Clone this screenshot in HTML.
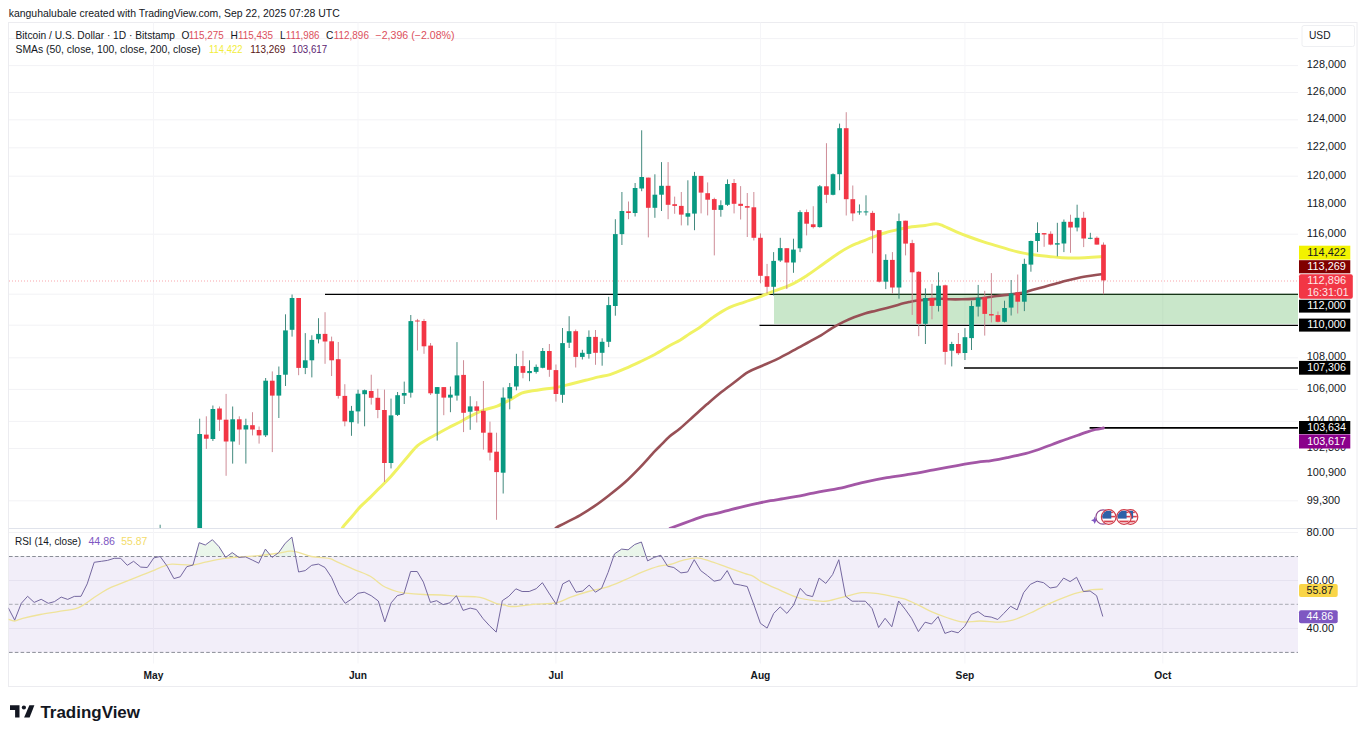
<!DOCTYPE html>
<html><head><meta charset="utf-8"><title>Bitcoin / U.S. Dollar chart</title>
<style>
html,body{margin:0;padding:0;background:#fff;}
body{width:1365px;height:736px;overflow:hidden;position:relative;font-family:'Liberation Sans', Arial, sans-serif;}
svg{position:absolute;left:0;top:0;display:block;}
svg text{font-family:'Liberation Sans', Arial, sans-serif;}
</style></head><body>
<svg width="1365" height="736" viewBox="0 0 1365 736">
<defs>
<clipPath id="cMain"><rect x="8.5" y="22.5" width="1289.5" height="506.0"/></clipPath>
<clipPath id="cRsi"><rect x="8.5" y="529" width="1289.5" height="134.5"/></clipPath>
<clipPath id="cOB"><rect x="8.5" y="529" width="1289.5" height="27.5"/></clipPath>
<linearGradient id="gOB" x1="0" y1="0" x2="0" y2="1"><stop offset="0" stop-color="#4caf50" stop-opacity="0.10"/><stop offset="1" stop-color="#4caf50" stop-opacity="0.22"/></linearGradient>
</defs>

<text x="8.7" y="16.8" font-size="10.5" fill="#131722" textLength="331" lengthAdjust="spacingAndGlyphs">kanguhalubale created with TradingView.com, Sep 22, 2025 07:28 UTC</text>
<rect x="8.5" y="22.5" width="1348.5" height="664" fill="none" stroke="#ececf0" stroke-width="1"/>
<g stroke="#f2f2f5" stroke-width="1"><line x1="9" y1="38.6" x2="1298" y2="38.6"/><line x1="9" y1="65.6" x2="1298" y2="65.6"/><line x1="9" y1="92.5" x2="1298" y2="92.5"/><line x1="9" y1="119.8" x2="1298" y2="119.8"/><line x1="9" y1="147.8" x2="1298" y2="147.8"/><line x1="9" y1="176.2" x2="1298" y2="176.2"/><line x1="9" y1="234.2" x2="1298" y2="234.2"/><line x1="9" y1="294.2" x2="1298" y2="294.2"/><line x1="9" y1="325.2" x2="1298" y2="325.2"/><line x1="9" y1="357.8" x2="1298" y2="357.8"/><line x1="9" y1="389.4" x2="1298" y2="389.4"/><line x1="9" y1="421.4" x2="1298" y2="421.4"/><line x1="9" y1="448.5" x2="1298" y2="448.5"/><line x1="9" y1="500.8" x2="1298" y2="500.8"/><line x1="9" y1="532.5" x2="1298" y2="532.5"/><line x1="9" y1="580.5" x2="1298" y2="580.5"/><line x1="9" y1="628.5" x2="1298" y2="628.5"/></g>
<g stroke="#f5f5f8" stroke-width="1"><line x1="153.52" y1="22.5" x2="153.52" y2="528.5"/><line x1="153.52" y1="529" x2="153.52" y2="663.5"/><line x1="358.03" y1="22.5" x2="358.03" y2="528.5"/><line x1="358.03" y1="529" x2="358.03" y2="663.5"/><line x1="555.94" y1="22.5" x2="555.94" y2="528.5"/><line x1="555.94" y1="529" x2="555.94" y2="663.5"/><line x1="760.44" y1="22.5" x2="760.44" y2="528.5"/><line x1="760.44" y1="529" x2="760.44" y2="663.5"/><line x1="964.95" y1="22.5" x2="964.95" y2="528.5"/><line x1="964.95" y1="529" x2="964.95" y2="663.5"/><line x1="1162.86" y1="22.5" x2="1162.86" y2="528.5"/><line x1="1162.86" y1="529" x2="1162.86" y2="663.5"/></g>
<g clip-path="url(#cMain)">
<g stroke="#000">
<line x1="325" y1="294.4" x2="1298" y2="294.4" stroke-width="1.4"/>
<line x1="759.5" y1="325.3" x2="1298" y2="325.3" stroke-width="1.3"/>
<line x1="964" y1="368" x2="1298" y2="368" stroke-width="1.7"/>
<line x1="1089.6" y1="427.8" x2="1298" y2="427.8" stroke-width="1.7"/>
</g>
<rect x="774" y="293.6" width="524" height="30.299999999999955" fill="#4caf50" fill-opacity="0.3"/>
<line x1="9" y1="281" x2="1298" y2="281" stroke="#F23645" stroke-opacity="0.45" stroke-width="1" stroke-dasharray="1 2"/>
<path d="M670,528.4 C670.38,528.25 668.73,528.82 672.3,527.5 C675.87,526.18 686.02,522.43 691.4,520.5 C696.78,518.57 700.22,517.12 704.6,515.9 C708.98,514.68 713.32,514.25 717.7,513.2 C722.08,512.15 726.5,510.73 730.9,509.6 C735.3,508.47 739.7,507.43 744.1,506.4 C748.5,505.37 752.9,504.35 757.3,503.4 C761.7,502.45 766.1,501.48 770.5,500.7 C774.9,499.92 779.3,499.42 783.7,498.7 C788.1,497.98 792.5,497.23 796.9,496.4 C801.3,495.57 805.72,494.58 810.1,493.7 C814.48,492.82 818.82,491.92 823.2,491.1 C827.58,490.28 832.77,489.47 836.4,488.8 C840.03,488.13 840.5,488.17 845,487.1 C849.5,486.03 856.42,483.97 863.4,482.4 C870.38,480.83 879.08,479.07 886.9,477.7 C894.72,476.33 902.48,475.5 910.3,474.2 C918.12,472.9 925.98,471.33 933.8,469.9 C941.62,468.47 949.38,466.97 957.2,465.6 C965.02,464.23 975.23,462.5 980.7,461.7 C986.17,460.9 986.98,461.18 990,460.8 C993.02,460.42 995.87,459.93 998.8,459.4 C1001.73,458.87 1004.67,458.23 1007.6,457.6 C1010.53,456.97 1013.47,456.25 1016.4,455.6 C1019.33,454.95 1022.27,454.47 1025.2,453.7 C1028.13,452.93 1031.08,451.95 1034,451 C1036.92,450.05 1039.78,449.05 1042.7,448 C1045.62,446.95 1048.57,445.8 1051.5,444.7 C1054.43,443.6 1057.37,442.47 1060.3,441.4 C1063.23,440.33 1066.17,439.33 1069.1,438.3 C1072.03,437.27 1074.97,436.23 1077.9,435.2 C1080.83,434.17 1083.77,433.05 1086.7,432.1 C1089.63,431.15 1092.72,430.18 1095.5,429.5 C1098.28,428.82 1102.08,428.25 1103.4,428" fill="none" stroke="#a357a6" stroke-width="2.8" stroke-linejoin="round" stroke-linecap="round"/>
<path d="M555.5,528.5 C555.7,528.3 555.13,528.2 556.7,527.3 C558.27,526.4 561.03,525.1 564.9,523.1 C568.77,521.1 574.92,518.17 579.9,515.3 C584.88,512.43 589.82,509.33 594.8,505.9 C599.78,502.47 604.82,498.6 609.8,494.7 C614.78,490.8 619.73,486.98 624.7,482.5 C629.67,478.02 634.62,472.98 639.6,467.8 C644.58,462.62 650.85,455.38 654.6,451.4 C658.35,447.42 659.62,446.4 662.1,443.9 C664.58,441.4 666.52,438.97 669.5,436.4 C672.48,433.83 675.98,431.85 680,428.5 C684.02,425.15 689.07,420.37 693.6,416.3 C698.13,412.23 702.67,408.07 707.2,404.1 C711.73,400.13 716.27,396.13 720.8,392.5 C725.33,388.87 729.87,385.7 734.4,382.3 C738.93,378.9 743.47,374.82 748,372.1 C752.53,369.38 757.08,367.98 761.6,366 C766.12,364.02 770.58,362.35 775.1,360.2 C779.62,358.05 784.17,355.53 788.7,353.1 C793.23,350.67 798.75,347.55 802.3,345.6 C805.85,343.65 806.88,343.1 810,341.4 C813.12,339.7 817.33,337.6 821,335.4 C824.67,333.2 828.33,330.4 832,328.2 C835.67,326 839.33,324.02 843,322.2 C846.67,320.38 850.35,318.77 854,317.3 C857.65,315.83 861.25,314.5 864.9,313.4 C868.55,312.3 872.23,311.62 875.9,310.7 C879.57,309.78 883.23,308.87 886.9,307.9 C890.57,306.93 894.23,305.87 897.9,304.9 C901.57,303.93 905.97,302.78 908.9,302.1 C911.83,301.42 911.83,301.3 915.5,300.8 C919.17,300.3 926.5,299.43 930.9,299.1 C935.3,298.77 938.72,298.77 941.9,298.8 C945.08,298.83 946.7,299.22 950,299.3 C953.3,299.38 957.8,299.37 961.7,299.3 C965.6,299.23 969.48,299.15 973.4,298.9 C977.32,298.65 981.28,298.28 985.2,297.8 C989.12,297.32 993,296.53 996.9,296 C1000.8,295.47 1004.7,295.08 1008.6,294.6 C1012.5,294.12 1017.37,293.55 1020.3,293.1 C1023.23,292.65 1024.23,292.4 1026.2,291.9 C1028.17,291.4 1029.17,290.93 1032.1,290.1 C1035.03,289.27 1039.9,287.97 1043.8,286.9 C1047.7,285.83 1051.6,284.77 1055.5,283.7 C1059.4,282.63 1063.28,281.48 1067.2,280.5 C1071.12,279.52 1075.08,278.58 1079,277.8 C1082.92,277.02 1087,276.38 1090.7,275.8 C1094.4,275.22 1099.07,274.58 1101.2,274.3 C1103.33,274.02 1103.12,274.13 1103.5,274.1" fill="none" stroke="#985056" stroke-width="2.6" stroke-linejoin="round" stroke-linecap="round"/>
<path d="M342.2,528.5 C342.37,528.2 341.57,528.7 343.2,526.7 C344.83,524.7 349.1,519.88 352,516.5 C354.9,513.12 357.6,509.55 360.6,506.4 C363.6,503.25 366.85,500.67 370,497.6 C373.15,494.53 376.33,491.18 379.5,488 C382.67,484.82 385.83,481.9 389,478.5 C392.17,475.1 395.32,471.32 398.5,467.6 C401.68,463.88 404.92,459.85 408.1,456.2 C411.28,452.55 414.43,448.48 417.6,445.7 C420.77,442.92 423.93,441.4 427.1,439.5 C430.27,437.6 433.12,436.22 436.6,434.3 C440.08,432.38 444.03,430.08 448,428 C451.97,425.92 456.73,423.75 460.4,421.8 C464.07,419.85 466.13,418.23 470,416.3 C473.87,414.37 479.07,411.9 483.6,410.2 C488.13,408.5 492.67,407.92 497.2,406.1 C501.73,404.28 506.73,401.45 510.8,399.3 C514.87,397.15 518.22,394.57 521.6,393.2 C524.98,391.83 527.25,391.78 531.1,391.1 C534.95,390.42 540.17,389.77 544.7,389.1 C549.23,388.43 553.77,388 558.3,387.1 C562.83,386.2 567.37,384.83 571.9,383.7 C576.43,382.57 580.97,381.43 585.5,380.3 C590.03,379.17 595.02,377.85 599.1,376.9 C603.18,375.95 605.68,375.97 610,374.6 C614.32,373.23 620.02,370.82 625,368.7 C629.98,366.58 634.93,364.27 639.9,361.9 C644.87,359.53 649.82,357.23 654.8,354.5 C659.78,351.77 665.6,347.88 669.8,345.5 C674,343.12 676.63,342.2 680,340.2 C683.37,338.2 686.72,335.62 690,333.5 C693.28,331.38 695.6,330.37 699.7,327.5 C703.8,324.63 709.62,319.65 714.6,316.3 C719.58,312.95 724.62,309.77 729.6,307.4 C734.58,305.03 739.52,303.85 744.5,302.1 C749.48,300.35 754.52,298.77 759.5,296.9 C764.48,295.03 769.32,292.85 774.4,290.9 C779.48,288.95 784.68,287.7 790,285.2 C795.32,282.7 800.87,279.35 806.3,275.9 C811.73,272.45 817.17,268.32 822.6,264.5 C828.03,260.68 834.33,256 838.9,253 C843.47,250 846.63,248.23 850,246.5 C853.37,244.77 855.38,244.13 859.1,242.6 C862.82,241.07 867.9,238.95 872.3,237.3 C876.7,235.65 881.1,234.02 885.5,232.7 C889.9,231.38 894.3,230.38 898.7,229.4 C903.1,228.42 907.5,227.47 911.9,226.8 C916.3,226.13 921.1,225.9 925.1,225.4 C929.1,224.9 932.88,223.73 935.9,223.8 C938.92,223.87 939.78,224.47 943.2,225.8 C946.62,227.13 952,229.93 956.4,231.8 C960.8,233.67 965.2,235.37 969.6,237 C974,238.63 978.42,240.17 982.8,241.6 C987.18,243.03 991.52,244.27 995.9,245.6 C1000.28,246.93 1004.7,248.38 1009.1,249.6 C1013.5,250.82 1017.9,251.98 1022.3,252.9 C1026.7,253.82 1031.1,254.52 1035.5,255.1 C1039.9,255.68 1044.3,255.97 1048.7,256.4 C1053.1,256.83 1057.5,257.42 1061.9,257.7 C1066.3,257.98 1070.72,258.13 1075.1,258.1 C1079.48,258.07 1084.03,257.72 1088.2,257.5 C1092.37,257.28 1097.55,256.95 1100.1,256.8 C1102.65,256.65 1102.93,256.63 1103.5,256.6" fill="none" stroke="#f0f264" stroke-width="3" stroke-linejoin="round" stroke-linecap="round"/>
<g fill="#2f7d70"><rect x="159.67" y="524.7" width="0.9" height="15.3"/><rect x="199.25" y="418.7" width="0.9" height="121.3"/><rect x="212.44" y="405.5" width="0.9" height="35.5"/><rect x="232.24" y="406.5" width="0.9" height="57.1"/><rect x="245.43" y="418.7" width="0.9" height="44.9"/><rect x="265.22" y="378" width="0.9" height="59"/><rect x="278.41" y="366.5" width="0.9" height="51.5"/><rect x="285.01" y="314.3" width="0.9" height="71.7"/><rect x="291.61" y="294.5" width="0.9" height="42.1"/><rect x="304.8" y="333.1" width="0.9" height="41"/><rect x="311.4" y="335.3" width="0.9" height="42.1"/><rect x="318" y="318.2" width="0.9" height="25.2"/><rect x="350.98" y="405.9" width="0.9" height="29.9"/><rect x="357.58" y="389.6" width="0.9" height="34"/><rect x="364.18" y="389.6" width="0.9" height="36.7"/><rect x="390.56" y="398.6" width="0.9" height="69.8"/><rect x="397.16" y="392" width="0.9" height="24"/><rect x="403.76" y="381.6" width="0.9" height="22.4"/><rect x="410.35" y="315" width="0.9" height="82.6"/><rect x="436.74" y="387" width="0.9" height="53.6"/><rect x="449.94" y="386.5" width="0.9" height="25.7"/><rect x="456.53" y="342.1" width="0.9" height="58.5"/><rect x="469.73" y="396.2" width="0.9" height="33.6"/><rect x="502.71" y="387.4" width="0.9" height="106.1"/><rect x="509.31" y="383" width="0.9" height="26.3"/><rect x="515.91" y="353.8" width="0.9" height="36.5"/><rect x="529.1" y="360.3" width="0.9" height="20.9"/><rect x="535.7" y="364.5" width="0.9" height="9.1"/><rect x="542.29" y="348" width="0.9" height="20.3"/><rect x="562.09" y="328" width="0.9" height="74.8"/><rect x="568.68" y="316.2" width="0.9" height="31.8"/><rect x="581.88" y="349.8" width="0.9" height="9.7"/><rect x="588.47" y="330.4" width="0.9" height="28.2"/><rect x="601.67" y="338.3" width="0.9" height="27.4"/><rect x="608.26" y="296.8" width="0.9" height="50.3"/><rect x="614.86" y="219.2" width="0.9" height="96.5"/><rect x="621.46" y="192" width="0.9" height="53"/><rect x="634.65" y="183" width="0.9" height="33.5"/><rect x="641.25" y="130.3" width="0.9" height="60.9"/><rect x="654.44" y="174.3" width="0.9" height="43.5"/><rect x="661.04" y="162.1" width="0.9" height="48.9"/><rect x="687.43" y="180.3" width="0.9" height="45.1"/><rect x="694.02" y="171.9" width="0.9" height="58.3"/><rect x="720.41" y="200.3" width="0.9" height="16.4"/><rect x="727.01" y="179.4" width="0.9" height="26.5"/><rect x="773.19" y="252.1" width="0.9" height="43.4"/><rect x="779.79" y="237.8" width="0.9" height="24.1"/><rect x="792.98" y="238.7" width="0.9" height="34.1"/><rect x="799.58" y="210.3" width="0.9" height="41.8"/><rect x="819.37" y="185" width="0.9" height="42.6"/><rect x="832.56" y="173.4" width="0.9" height="21.9"/><rect x="839.16" y="123.6" width="0.9" height="66.6"/><rect x="858.95" y="204.4" width="0.9" height="10.3"/><rect x="865.55" y="195.3" width="0.9" height="20.2"/><rect x="885.34" y="254.3" width="0.9" height="34.8"/><rect x="898.53" y="213.5" width="0.9" height="85.2"/><rect x="924.92" y="288.4" width="0.9" height="55.6"/><rect x="938.11" y="272.3" width="0.9" height="39.2"/><rect x="951.31" y="341.8" width="0.9" height="24.6"/><rect x="964.5" y="328.1" width="0.9" height="31.9"/><rect x="971.1" y="300.7" width="0.9" height="49.3"/><rect x="977.7" y="284.9" width="0.9" height="31.6"/><rect x="1004.08" y="300.7" width="0.9" height="21.7"/><rect x="1010.68" y="280" width="0.9" height="35.5"/><rect x="1023.88" y="258.7" width="0.9" height="52.4"/><rect x="1030.47" y="240.6" width="0.9" height="31.1"/><rect x="1037.07" y="222.3" width="0.9" height="29.8"/><rect x="1056.86" y="222.8" width="0.9" height="33.5"/><rect x="1063.46" y="219.5" width="0.9" height="32.6"/><rect x="1076.65" y="204.7" width="0.9" height="26.7"/><rect x="1089.85" y="232.8" width="0.9" height="6.4"/></g>
<g fill="#c9808c"><rect x="205.85" y="416.3" width="0.9" height="32.6"/><rect x="219.04" y="406.5" width="0.9" height="24.5"/><rect x="225.64" y="393.9" width="0.9" height="81.9"/><rect x="238.83" y="416.3" width="0.9" height="28.5"/><rect x="252.03" y="412.2" width="0.9" height="23.2"/><rect x="258.62" y="426.5" width="0.9" height="17.1"/><rect x="271.82" y="371.4" width="0.9" height="80.7"/><rect x="298.2" y="298" width="0.9" height="77.2"/><rect x="324.59" y="312.2" width="0.9" height="51.6"/><rect x="331.19" y="336.6" width="0.9" height="39.4"/><rect x="337.79" y="342" width="0.9" height="56.6"/><rect x="344.38" y="384.2" width="0.9" height="42.1"/><rect x="370.77" y="374.7" width="0.9" height="29.9"/><rect x="377.37" y="388.8" width="0.9" height="29.4"/><rect x="383.97" y="389.6" width="0.9" height="92.4"/><rect x="416.95" y="318.9" width="0.9" height="31.6"/><rect x="423.55" y="318.9" width="0.9" height="34.9"/><rect x="430.15" y="343" width="0.9" height="52"/><rect x="443.34" y="387" width="0.9" height="28.2"/><rect x="463.13" y="360.2" width="0.9" height="71.9"/><rect x="476.32" y="401.2" width="0.9" height="21.3"/><rect x="482.92" y="381" width="0.9" height="68.6"/><rect x="489.52" y="421.6" width="0.9" height="38.9"/><rect x="496.12" y="432.7" width="0.9" height="87.1"/><rect x="522.5" y="350.8" width="0.9" height="27.5"/><rect x="548.89" y="344" width="0.9" height="32.8"/><rect x="555.49" y="364.5" width="0.9" height="37.1"/><rect x="575.28" y="329.5" width="0.9" height="38"/><rect x="595.07" y="330" width="0.9" height="34.8"/><rect x="628.05" y="201.5" width="0.9" height="17.7"/><rect x="647.85" y="177.6" width="0.9" height="59.8"/><rect x="667.64" y="162.1" width="0.9" height="57.1"/><rect x="674.23" y="196.6" width="0.9" height="17.2"/><rect x="680.83" y="192" width="0.9" height="33.4"/><rect x="700.62" y="175.9" width="0.9" height="37.5"/><rect x="707.22" y="182.4" width="0.9" height="33"/><rect x="713.82" y="197.7" width="0.9" height="57.7"/><rect x="733.61" y="179" width="0.9" height="34.4"/><rect x="740.2" y="186.1" width="0.9" height="33.4"/><rect x="746.8" y="193" width="0.9" height="44"/><rect x="753.4" y="192" width="0.9" height="48.5"/><rect x="759.99" y="233.4" width="0.9" height="49.9"/><rect x="766.59" y="263.9" width="0.9" height="29.6"/><rect x="786.38" y="248.2" width="0.9" height="40.8"/><rect x="806.17" y="209.5" width="0.9" height="25.9"/><rect x="812.77" y="206.2" width="0.9" height="22.2"/><rect x="825.96" y="143.2" width="0.9" height="59.9"/><rect x="845.76" y="112.2" width="0.9" height="103.3"/><rect x="852.35" y="185.5" width="0.9" height="35.7"/><rect x="872.14" y="210.8" width="0.9" height="42.5"/><rect x="878.74" y="230.1" width="0.9" height="52.4"/><rect x="891.93" y="252.1" width="0.9" height="41.5"/><rect x="905.13" y="220.7" width="0.9" height="34.7"/><rect x="911.73" y="239.8" width="0.9" height="75.1"/><rect x="918.32" y="271.1" width="0.9" height="65.1"/><rect x="931.52" y="283.9" width="0.9" height="35.4"/><rect x="944.71" y="284.6" width="0.9" height="80"/><rect x="957.9" y="333" width="0.9" height="21.9"/><rect x="984.29" y="290.8" width="0.9" height="44.8"/><rect x="990.89" y="273.1" width="0.9" height="49.3"/><rect x="997.49" y="311.5" width="0.9" height="10.9"/><rect x="1017.28" y="274.5" width="0.9" height="39"/><rect x="1043.67" y="233.1" width="0.9" height="13.7"/><rect x="1050.26" y="231.3" width="0.9" height="14"/><rect x="1070.05" y="214.7" width="0.9" height="38.1"/><rect x="1083.25" y="211.8" width="0.9" height="35.3"/><rect x="1096.44" y="236.4" width="0.9" height="8.2"/><rect x="1103.04" y="242.4" width="0.9" height="51.8"/></g>
<g fill="#089981"><rect x="157.77" y="531" width="4.7" height="9"/><rect x="197.35" y="434" width="4.7" height="106"/><rect x="210.54" y="409" width="4.7" height="30"/><rect x="230.34" y="419.3" width="4.7" height="22.2"/><rect x="243.53" y="425.2" width="4.7" height="4.3"/><rect x="263.32" y="380.7" width="4.7" height="54.6"/><rect x="276.51" y="375" width="4.7" height="20.6"/><rect x="283.11" y="330.4" width="4.7" height="44.3"/><rect x="289.71" y="298" width="4.7" height="31.8"/><rect x="302.9" y="360.3" width="4.7" height="7.6"/><rect x="309.5" y="339.9" width="4.7" height="20.4"/><rect x="316.1" y="333.9" width="4.7" height="5.4"/><rect x="349.08" y="410.8" width="4.7" height="11.4"/><rect x="355.68" y="393.7" width="4.7" height="17.7"/><rect x="362.27" y="390.2" width="4.7" height="4"/><rect x="388.66" y="415.4" width="4.7" height="47.6"/><rect x="395.26" y="395.2" width="4.7" height="19.7"/><rect x="401.86" y="393" width="4.7" height="2.6"/><rect x="408.45" y="321.1" width="4.7" height="71.6"/><rect x="434.84" y="387.1" width="4.7" height="6.7"/><rect x="448.04" y="394.7" width="4.7" height="2.9"/><rect x="454.63" y="375.4" width="4.7" height="20.2"/><rect x="467.83" y="406.4" width="4.7" height="5.3"/><rect x="500.81" y="397.6" width="4.7" height="75.1"/><rect x="507.41" y="387.1" width="4.7" height="11.4"/><rect x="514.01" y="366.1" width="4.7" height="20.4"/><rect x="527.2" y="371" width="4.7" height="2.1"/><rect x="533.8" y="366.9" width="4.7" height="5"/><rect x="540.39" y="351" width="4.7" height="16.8"/><rect x="560.19" y="343.1" width="4.7" height="51.7"/><rect x="566.78" y="331.2" width="4.7" height="11.5"/><rect x="579.98" y="352.8" width="4.7" height="4.1"/><rect x="586.57" y="336.9" width="4.7" height="17"/><rect x="599.77" y="341.8" width="4.7" height="11"/><rect x="606.36" y="305.1" width="4.7" height="36.7"/><rect x="612.96" y="234.1" width="4.7" height="71.9"/><rect x="619.56" y="211" width="4.7" height="23.1"/><rect x="632.75" y="188" width="4.7" height="25"/><rect x="639.35" y="177" width="4.7" height="11.5"/><rect x="652.54" y="194.7" width="4.7" height="13.1"/><rect x="659.14" y="185.8" width="4.7" height="8.9"/><rect x="685.53" y="213.2" width="4.7" height="3.5"/><rect x="692.12" y="175.9" width="4.7" height="37.7"/><rect x="718.51" y="205.2" width="4.7" height="4.7"/><rect x="725.11" y="184" width="4.7" height="20.8"/><rect x="771.29" y="260.9" width="4.7" height="25.9"/><rect x="777.89" y="248.1" width="4.7" height="12.4"/><rect x="791.08" y="249.6" width="4.7" height="12.9"/><rect x="797.68" y="212.1" width="4.7" height="36.2"/><rect x="817.47" y="186.3" width="4.7" height="40.8"/><rect x="830.66" y="174.2" width="4.7" height="20.6"/><rect x="837.26" y="128.2" width="4.7" height="46"/><rect x="857.05" y="211.4" width="4.7" height="1"/><rect x="863.65" y="211.4" width="4.7" height="1"/><rect x="883.44" y="259.9" width="4.7" height="21.8"/><rect x="896.63" y="221.1" width="4.7" height="66.4"/><rect x="923.02" y="298" width="4.7" height="25.8"/><rect x="936.21" y="285.7" width="4.7" height="20.2"/><rect x="949.41" y="344" width="4.7" height="6.7"/><rect x="962.6" y="337.2" width="4.7" height="15.8"/><rect x="969.2" y="306" width="4.7" height="32.1"/><rect x="975.8" y="297.7" width="4.7" height="8.9"/><rect x="1002.18" y="308" width="4.7" height="13.8"/><rect x="1008.78" y="293.4" width="4.7" height="14.2"/><rect x="1021.98" y="263.9" width="4.7" height="37.8"/><rect x="1028.57" y="241" width="4.7" height="23.6"/><rect x="1035.17" y="233" width="4.7" height="8"/><rect x="1054.96" y="243.2" width="4.7" height="1.4"/><rect x="1061.56" y="221.8" width="4.7" height="21.7"/><rect x="1074.75" y="217.8" width="4.7" height="9.7"/><rect x="1087.95" y="237.8" width="4.7" height="1"/></g>
<g fill="#F23645"><rect x="203.95" y="434.6" width="4.7" height="4.1"/><rect x="217.14" y="408.5" width="4.7" height="11.2"/><rect x="223.74" y="419.7" width="4.7" height="21.8"/><rect x="236.93" y="419.3" width="4.7" height="10.2"/><rect x="250.13" y="425.2" width="4.7" height="4.3"/><rect x="256.72" y="430" width="4.7" height="5.4"/><rect x="269.92" y="380.7" width="4.7" height="14.9"/><rect x="296.3" y="298" width="4.7" height="69.9"/><rect x="322.69" y="333.9" width="4.7" height="7.6"/><rect x="329.29" y="341.3" width="4.7" height="19"/><rect x="335.89" y="359.2" width="4.7" height="36.7"/><rect x="342.48" y="395.9" width="4.7" height="25.5"/><rect x="368.87" y="391" width="4.7" height="6.8"/><rect x="375.47" y="397.8" width="4.7" height="12.2"/><rect x="382.07" y="410" width="4.7" height="53"/><rect x="415.05" y="320.5" width="4.7" height="1"/><rect x="421.65" y="321" width="4.7" height="25.3"/><rect x="428.25" y="345.6" width="4.7" height="47.7"/><rect x="441.44" y="387.1" width="4.7" height="10.5"/><rect x="461.23" y="374.9" width="4.7" height="37.9"/><rect x="474.42" y="406.4" width="4.7" height="4.4"/><rect x="481.02" y="410.8" width="4.7" height="21.9"/><rect x="487.62" y="432.7" width="4.7" height="19.9"/><rect x="494.21" y="451.7" width="4.7" height="20.4"/><rect x="520.6" y="366.1" width="4.7" height="6.7"/><rect x="546.99" y="351" width="4.7" height="18.8"/><rect x="553.59" y="370.1" width="4.7" height="23.9"/><rect x="573.38" y="331.2" width="4.7" height="25.7"/><rect x="593.17" y="336.9" width="4.7" height="15.9"/><rect x="626.15" y="211.3" width="4.7" height="1.7"/><rect x="645.95" y="177.6" width="4.7" height="30.2"/><rect x="665.74" y="185.8" width="4.7" height="19"/><rect x="672.33" y="204.2" width="4.7" height="1.7"/><rect x="678.93" y="205.9" width="4.7" height="8.7"/><rect x="698.72" y="175.9" width="4.7" height="16.7"/><rect x="705.32" y="193.2" width="4.7" height="6.5"/><rect x="711.92" y="199.1" width="4.7" height="10.8"/><rect x="731.71" y="183" width="4.7" height="20.8"/><rect x="738.3" y="203.8" width="4.7" height="2.1"/><rect x="744.9" y="206.1" width="4.7" height="1.6"/><rect x="751.5" y="207.3" width="4.7" height="30.5"/><rect x="758.09" y="237.8" width="4.7" height="38"/><rect x="764.69" y="276.2" width="4.7" height="10.6"/><rect x="784.48" y="248.2" width="4.7" height="14.3"/><rect x="804.27" y="212.1" width="4.7" height="11.6"/><rect x="810.87" y="224.3" width="4.7" height="2.8"/><rect x="824.06" y="186.3" width="4.7" height="8.5"/><rect x="843.86" y="128.2" width="4.7" height="71"/><rect x="850.45" y="199.2" width="4.7" height="14.2"/><rect x="870.24" y="212.9" width="4.7" height="17.7"/><rect x="876.84" y="230.1" width="4.7" height="51.6"/><rect x="890.03" y="259.9" width="4.7" height="27.6"/><rect x="903.23" y="220.7" width="4.7" height="22.9"/><rect x="909.83" y="243.1" width="4.7" height="29.2"/><rect x="916.42" y="271.8" width="4.7" height="52"/><rect x="929.62" y="298" width="4.7" height="7.9"/><rect x="942.81" y="285.3" width="4.7" height="66.6"/><rect x="956" y="344" width="4.7" height="9.2"/><rect x="982.39" y="297.3" width="4.7" height="16.6"/><rect x="988.99" y="314.1" width="4.7" height="1.4"/><rect x="995.59" y="315.1" width="4.7" height="6.7"/><rect x="1015.38" y="292.4" width="4.7" height="9.3"/><rect x="1041.77" y="233.1" width="4.7" height="1.4"/><rect x="1048.36" y="233.8" width="4.7" height="10.8"/><rect x="1068.15" y="221.8" width="4.7" height="5.7"/><rect x="1081.35" y="217.8" width="4.7" height="20.7"/><rect x="1094.54" y="237.8" width="4.7" height="6.8"/><rect x="1101.14" y="244.7" width="4.7" height="35.7"/></g>
</g>
<g font-size="10.2" fill="#131722">
<text x="15.5" y="38.8" textLength="159.5" lengthAdjust="spacingAndGlyphs">Bitcoin / U.S. Dollar · 1D · Bitstamp</text>
<text x="181.4" y="38.8" fill="#131722">O</text>
<text x="188.8" y="38.8" fill="#dc4f5c" textLength="35" lengthAdjust="spacingAndGlyphs">115,275</text>
<text x="230.4" y="38.8" fill="#131722">H</text>
<text x="238.0" y="38.8" fill="#dc4f5c" textLength="35" lengthAdjust="spacingAndGlyphs">115,435</text>
<text x="279.9" y="38.8" fill="#131722">L</text>
<text x="285.8" y="38.8" fill="#dc4f5c" textLength="33.7" lengthAdjust="spacingAndGlyphs">111,986</text>
<text x="326.0" y="38.8" fill="#131722">C</text>
<text x="333.8" y="38.8" fill="#dc4f5c" textLength="35.1" lengthAdjust="spacingAndGlyphs">112,896</text>
<text x="375.5" y="38.8" fill="#dc4f5c" textLength="79" lengthAdjust="spacingAndGlyphs">−2,396 (−2.08%)</text>
<text x="15.5" y="53" textLength="185.3" lengthAdjust="spacingAndGlyphs">SMAs (50, close, 100, close, 200, close)</text>
<text x="209" y="53" fill="#f2ee3a" textLength="33.5" lengthAdjust="spacingAndGlyphs">114,422</text>
<text x="250.2" y="53" fill="#5a1616" textLength="35.2" lengthAdjust="spacingAndGlyphs">113,269</text>
<text x="292" y="53" fill="#5b2370" textLength="35.1" lengthAdjust="spacingAndGlyphs">103,617</text>
</g>
<defs><clipPath id="cf2"><circle cx="1108.7" cy="517" r="6.4"/></clipPath><clipPath id="cf3"><circle cx="1124" cy="517" r="6.4"/></clipPath><clipPath id="cf4"><circle cx="1130.5" cy="517" r="6.4"/></clipPath></defs>
<g>
<path d="M1094.7,516.6 L1095.8,519.2 L1098.4,520.3 L1095.8,521.4 L1094.7,524 L1093.6,521.4 L1091,520.3 L1093.6,519.2 Z" fill="#7e57c2"/>
<circle cx="1103.1" cy="517" r="7.2" fill="#fff" stroke="#8e4a90" stroke-width="1.2"/>
<circle cx="1108.7" cy="517" r="7.3" fill="#fff" stroke="#cf3a48" stroke-width="1.2"/><g clip-path="url(#cf2)"><rect x="1101.7" y="511.6" width="14" height="1.5" fill="#d8424f"/><rect x="1101.7" y="515.8" width="14" height="1.6" fill="#d8424f"/><rect x="1101.7" y="520.6" width="14" height="1.8" fill="#d8424f"/><rect x="1101.7" y="510.5" width="9.6" height="8.1" fill="#2e62a8"/></g>
<circle cx="1130.5" cy="517" r="7.3" fill="#fff" stroke="#cf3a48" stroke-width="1.2"/><g clip-path="url(#cf4)"><rect x="1123.5" y="511.6" width="14" height="1.5" fill="#d8424f"/><rect x="1123.5" y="515.8" width="14" height="1.6" fill="#d8424f"/><rect x="1123.5" y="520.6" width="14" height="1.8" fill="#d8424f"/><rect x="1123.5" y="510.5" width="9.6" height="8.1" fill="#2e62a8"/></g>
<circle cx="1124" cy="517" r="7.3" fill="#fff" stroke="#cf3a48" stroke-width="1.2"/><g clip-path="url(#cf3)"><rect x="1117" y="511.6" width="14" height="1.5" fill="#d8424f"/><rect x="1117" y="515.8" width="14" height="1.6" fill="#d8424f"/><rect x="1117" y="520.6" width="14" height="1.8" fill="#d8424f"/><rect x="1117" y="510.5" width="9.6" height="8.1" fill="#2e62a8"/></g>
</g>
<g font-size="10" fill="#131722">
<text x="1306.8" y="68" textLength="39.3" lengthAdjust="spacingAndGlyphs">128,000</text>
<text x="1306.8" y="94.9" textLength="39.3" lengthAdjust="spacingAndGlyphs">126,000</text>
<text x="1306.8" y="122.2" textLength="39.3" lengthAdjust="spacingAndGlyphs">124,000</text>
<text x="1306.8" y="150.2" textLength="39.3" lengthAdjust="spacingAndGlyphs">122,000</text>
<text x="1306.8" y="178.6" textLength="39.3" lengthAdjust="spacingAndGlyphs">120,000</text>
<text x="1306.8" y="207.2" textLength="39.3" lengthAdjust="spacingAndGlyphs">118,000</text>
<text x="1306.8" y="236.6" textLength="39.3" lengthAdjust="spacingAndGlyphs">116,000</text>
<text x="1306.8" y="359.9" textLength="39.3" lengthAdjust="spacingAndGlyphs">108,000</text>
<text x="1306.8" y="391.8" textLength="39.3" lengthAdjust="spacingAndGlyphs">106,000</text>
<text x="1306.8" y="423.8" textLength="39.3" lengthAdjust="spacingAndGlyphs">104,000</text>
<text x="1306.8" y="450.9" textLength="39.3" lengthAdjust="spacingAndGlyphs">102,300</text>
<text x="1306.8" y="476" textLength="39.3" lengthAdjust="spacingAndGlyphs">100,900</text>
<text x="1306.8" y="504.3" textLength="33.4" lengthAdjust="spacingAndGlyphs">99,300</text>
</g>
<rect x="1302" y="25.5" width="52.5" height="21" rx="2" fill="#fff" stroke="#eeeff2" stroke-width="1"/>
<text x="1309" y="39.3" font-size="10.2" fill="#131722">USD</text>
<rect x="1299" y="245.7" width="51.3" height="13.9" fill="#f2f200" rx="0"/><text x="1307.3" y="255.75" font-size="10" fill="#131722" textLength="38.6" lengthAdjust="spacingAndGlyphs">114,422</text>
<rect x="1299" y="260.2" width="51.3" height="13.1" fill="#800000" rx="0"/><text x="1307.3" y="269.85" font-size="10" fill="#ffffff" textLength="38.6" lengthAdjust="spacingAndGlyphs">113,269</text>
<rect x="1299" y="274.2" width="53.8" height="24.5" rx="2" fill="#F23645"/>
<text x="1307.2" y="284.2" font-size="10.4" fill="#fde8ea" textLength="39" lengthAdjust="spacingAndGlyphs">112,896</text>
<text x="1307.2" y="295.5" font-size="10.4" fill="#fde8ea" textLength="41.5" lengthAdjust="spacingAndGlyphs">16:31:01</text>
<rect x="1299" y="299.8" width="51.3" height="12.8" fill="#000" rx="0"/><text x="1307.3" y="309.3" font-size="10" fill="#fff" textLength="38.6" lengthAdjust="spacingAndGlyphs">112,000</text>
<rect x="1299" y="318.6" width="51.3" height="13" fill="#000" rx="0"/><text x="1307.3" y="328.2" font-size="10" fill="#fff" textLength="38.6" lengthAdjust="spacingAndGlyphs">110,000</text>
<rect x="1299" y="360.9" width="51.3" height="13.8" fill="#000" rx="0"/><text x="1307.3" y="370.9" font-size="10" fill="#fff" textLength="38.6" lengthAdjust="spacingAndGlyphs">107,306</text>
<rect x="1299" y="421" width="51.3" height="13" fill="#000" rx="0"/><text x="1307.3" y="430.6" font-size="10" fill="#fff" textLength="38.6" lengthAdjust="spacingAndGlyphs">103,634</text>
<rect x="1299" y="434.4" width="51.3" height="14.1" fill="#8b008b" rx="0"/><text x="1307.3" y="444.55" font-size="10" fill="#fff" textLength="38.6" lengthAdjust="spacingAndGlyphs">103,617</text>
<line x1="9" y1="528.5" x2="1357" y2="528.5" stroke="#e0e3eb" stroke-width="1"/>
<g clip-path="url(#cRsi)">
<rect x="9" y="556.5" width="1289" height="95.89999999999998" fill="#7e57c2" fill-opacity="0.1"/>
<g clip-path="url(#cOB)"><polygon points="8.2,556.5 8.2,607.7 14.7,620.1 21.3,603.3 27.6,596.3 34.2,602.4 41.2,599.3 48.3,603.3 54.5,601.6 61.2,597.1 67.7,599.4 74.3,596.4 81,596.3 87.2,583.9 94.2,562.3 101.3,561.3 107.5,560.4 114.2,558.3 120.7,558.3 127.3,565.3 133.6,561.3 140.7,567.1 147.3,567.5 153.8,557.9 160.2,556.5 167.2,566.2 173.9,578.6 180.2,576.8 186.8,566.7 193,565 199.2,542.7 205.3,545 212.4,539.7 219.1,546.8 225.7,557.4 232.2,552.6 238.9,557.4 245.6,556.9 252.2,560 258.7,563.2 265.4,549.1 272.1,557.4 278.7,552.6 285.2,543.3 291.9,537.1 298.6,572 305.2,570.6 311.7,565.3 318.4,564.1 325,567.5 331.7,577.7 338.9,594.5 345.2,603.3 351.8,598.9 358,593.3 364.2,592.2 371.2,595.7 378.3,601 384.8,621.9 391.2,602.8 397.2,595.7 403.9,593.9 410.6,571.5 417.2,571.5 423.4,582.1 430.4,602.4 436.6,600.7 443.1,604.6 449.9,602.8 456.4,595.7 463.1,610.4 470.2,608.1 476.4,609.5 483.1,618.7 489.6,625.8 496.2,632.1 502.3,600.7 508.8,596.3 515.9,588.8 522.1,591.5 529.2,591.5 536.2,588.7 542.4,582.7 549.5,594 556.2,604.2 562.7,583.9 569.3,580.4 576,592.2 582.7,591 589.2,585.1 595.4,592.2 601.6,588.3 608.1,572.4 614.5,553.9 621.6,549.1 628.1,549.8 634.7,544.5 641.4,542 647.6,560.9 654.1,557.4 660.8,555.3 667.6,566.2 673.8,567.5 680.9,572.9 687.6,572 694.2,559.7 700.7,570.6 707.4,575.6 714.1,581.2 720.7,579.8 727.2,570.6 733.9,583.9 740.6,585.1 747.2,586.5 753.7,604.2 760.4,623.3 767.1,628.1 773.7,613.4 780.2,606.9 786.9,613.4 793.6,605.1 800.2,588.3 806.4,595 812.6,596.6 819.1,578.1 825.8,583.4 832.6,574.6 838.8,559.7 845.6,596.3 852.1,601.2 858.6,601.2 865.3,601.2 872.1,608.6 878.6,627.5 885.1,618.3 891.8,626.8 898.6,601 905.1,609.2 911.6,618.3 918.4,631.6 925.1,622.2 931.6,624 938.1,616.6 944.9,633.4 951.6,631.1 958.1,632.8 964.7,626.3 971.4,614.5 978.1,611.6 984.6,616.2 991.2,617.1 997.8,619.5 1003.8,613.4 1010.6,606.3 1017.1,609.9 1023.6,592.7 1030.3,584.4 1037.1,581.2 1043.6,582.7 1050.1,588 1056.8,586.9 1063.6,578.1 1070.1,581.6 1076.6,577.3 1083.4,591.5 1090.1,591 1096.6,595.7 1102.8,616.5 1102.8,556.5" fill="url(#gOB)"/></g>
<g stroke="#8a8d97" stroke-width="1" stroke-dasharray="3.6 2.2">
<line x1="9" y1="556.5" x2="1298" y2="556.5"/>
<line x1="9" y1="652.4" x2="1298" y2="652.4"/>
</g>
<line x1="9" y1="604.3" x2="1298" y2="604.3" stroke="#a9abb3" stroke-width="1" stroke-dasharray="3.6 2.2"/>
<path d="M8.2,619.2 C9.28,619.5 12.28,621.15 14.7,621 C17.12,620.85 18.43,619.38 22.7,618.3 C26.97,617.22 34.42,615.62 40.3,614.5 C46.18,613.38 52.1,612.58 58,611.6 C63.9,610.62 71.28,609.83 75.7,608.6 C80.12,607.37 81.55,605.97 84.5,604.2 C87.45,602.43 90.45,600 93.4,598 C96.35,596 99.27,593.97 102.2,592.2 C105.13,590.43 108.05,588.78 111,587.4 C113.95,586.02 116.95,585.07 119.9,583.9 C122.85,582.73 125.77,581.58 128.7,580.4 C131.63,579.22 134.55,577.98 137.5,576.8 C140.45,575.62 143.45,574.47 146.4,573.3 C149.35,572.13 152.27,570.98 155.2,569.8 C158.13,568.62 161.2,567.13 164,566.2 C166.8,565.27 167.17,564.4 172,564.2 C176.83,564 187.45,565.33 193,565 C198.55,564.67 200.3,563.27 205.3,562.2 C210.3,561.13 217.1,559.48 223,558.6 C228.9,557.72 234.8,557.4 240.7,556.9 C246.6,556.4 252.52,556.17 258.4,555.6 C264.28,555.03 270.7,554.23 276,553.5 C281.3,552.77 286.67,551.43 290.2,551.2 C293.73,550.97 293.67,551.22 297.2,552.1 C300.73,552.98 306.1,555.47 311.4,556.5 C316.7,557.53 325.07,557.57 329,558.3 C332.93,559.03 331.05,559.13 335,560.9 C338.95,562.67 346.82,566.33 352.7,568.9 C358.58,571.47 365.3,573.5 370.3,576.3 C375.3,579.1 378.28,583.17 382.7,585.7 C387.12,588.23 392.97,590.27 396.8,591.5 C400.63,592.73 401.27,592.6 405.7,593.1 C410.13,593.6 417.52,594.18 423.4,594.5 C429.28,594.82 435.12,594.7 441,595 C446.88,595.3 452.8,596 458.7,596.3 C464.6,596.6 471.98,596.37 476.4,596.8 C480.82,597.23 481.67,597.72 485.2,598.9 C488.73,600.08 494.3,602.87 497.6,603.9 C500.9,604.93 503.13,604.7 505,605.1 C506.87,605.5 506.68,606.1 508.8,606.3 C510.92,606.5 513.28,606.65 517.7,606.3 C522.12,605.95 528.88,604.78 535.3,604.2 C541.72,603.62 550.3,603.98 556.2,602.8 C562.1,601.62 565.33,598.98 570.7,597.1 C576.07,595.22 582.52,593.12 588.4,591.5 C594.28,589.88 600.12,589.25 606,587.4 C611.88,585.55 617.8,582.9 623.7,580.4 C629.6,577.9 635.52,574.77 641.4,572.4 C647.28,570.03 654.23,567.52 659,566.2 C663.77,564.88 666.05,565.47 670,564.5 C673.95,563.53 678.23,561.5 682.7,560.4 C687.17,559.3 692.38,557.82 696.8,557.9 C701.22,557.98 704.2,559.37 709.2,560.9 C714.2,562.43 720.92,565.03 726.8,567.1 C732.68,569.17 740.07,571.77 744.5,573.3 C748.93,574.83 750.45,574.83 753.4,576.3 C756.35,577.77 757.78,579.8 762.2,582.1 C766.62,584.4 774.02,587.53 779.9,590.1 C785.78,592.67 791.62,595.73 797.5,597.5 C803.38,599.27 810.18,600.12 815.2,600.7 C820.22,601.28 822.48,601.73 827.6,601 C832.72,600.27 840.2,597.68 845.9,596.3 C851.6,594.92 856.78,593.2 861.8,592.7 C866.82,592.2 871,592.7 876,593.3 C881,593.9 887.1,595.37 891.8,596.3 C896.5,597.23 899.77,597.43 904.2,598.9 C908.63,600.37 913.68,602.88 918.4,605.1 C923.12,607.32 927.8,610.13 932.5,612.2 C937.2,614.27 941.6,615.88 946.6,617.5 C951.6,619.12 956.9,621.32 962.5,621.9 C968.1,622.48 973.95,620.95 980.2,621 C986.45,621.05 994.58,622.35 1000,622.2 C1005.42,622.05 1009.12,620.98 1012.7,620.1 C1016.28,619.22 1018.57,618.08 1021.5,616.9 C1024.43,615.72 1027.35,614.38 1030.3,613 C1033.25,611.62 1036.25,610.07 1039.2,608.6 C1042.15,607.13 1045.07,605.58 1048,604.2 C1050.93,602.82 1053.85,601.53 1056.8,600.3 C1059.75,599.07 1062.75,597.92 1065.7,596.8 C1068.65,595.68 1071.55,594.48 1074.5,593.6 C1077.45,592.72 1080.45,592.15 1083.4,591.5 C1086.35,590.85 1088.92,590.08 1092.2,589.7 C1095.48,589.32 1101.28,589.28 1103.1,589.2" fill="none" stroke="#efe39a" stroke-width="1.3" stroke-linejoin="round"/>
<polyline points="8.2,607.7 14.7,620.1 21.3,603.3 27.6,596.3 34.2,602.4 41.2,599.3 48.3,603.3 54.5,601.6 61.2,597.1 67.7,599.4 74.3,596.4 81,596.3 87.2,583.9 94.2,562.3 101.3,561.3 107.5,560.4 114.2,558.3 120.7,558.3 127.3,565.3 133.6,561.3 140.7,567.1 147.3,567.5 153.8,557.9 160.2,556.5 167.2,566.2 173.9,578.6 180.2,576.8 186.8,566.7 193,565 199.2,542.7 205.3,545 212.4,539.7 219.1,546.8 225.7,557.4 232.2,552.6 238.9,557.4 245.6,556.9 252.2,560 258.7,563.2 265.4,549.1 272.1,557.4 278.7,552.6 285.2,543.3 291.9,537.1 298.6,572 305.2,570.6 311.7,565.3 318.4,564.1 325,567.5 331.7,577.7 338.9,594.5 345.2,603.3 351.8,598.9 358,593.3 364.2,592.2 371.2,595.7 378.3,601 384.8,621.9 391.2,602.8 397.2,595.7 403.9,593.9 410.6,571.5 417.2,571.5 423.4,582.1 430.4,602.4 436.6,600.7 443.1,604.6 449.9,602.8 456.4,595.7 463.1,610.4 470.2,608.1 476.4,609.5 483.1,618.7 489.6,625.8 496.2,632.1 502.3,600.7 508.8,596.3 515.9,588.8 522.1,591.5 529.2,591.5 536.2,588.7 542.4,582.7 549.5,594 556.2,604.2 562.7,583.9 569.3,580.4 576,592.2 582.7,591 589.2,585.1 595.4,592.2 601.6,588.3 608.1,572.4 614.5,553.9 621.6,549.1 628.1,549.8 634.7,544.5 641.4,542 647.6,560.9 654.1,557.4 660.8,555.3 667.6,566.2 673.8,567.5 680.9,572.9 687.6,572 694.2,559.7 700.7,570.6 707.4,575.6 714.1,581.2 720.7,579.8 727.2,570.6 733.9,583.9 740.6,585.1 747.2,586.5 753.7,604.2 760.4,623.3 767.1,628.1 773.7,613.4 780.2,606.9 786.9,613.4 793.6,605.1 800.2,588.3 806.4,595 812.6,596.6 819.1,578.1 825.8,583.4 832.6,574.6 838.8,559.7 845.6,596.3 852.1,601.2 858.6,601.2 865.3,601.2 872.1,608.6 878.6,627.5 885.1,618.3 891.8,626.8 898.6,601 905.1,609.2 911.6,618.3 918.4,631.6 925.1,622.2 931.6,624 938.1,616.6 944.9,633.4 951.6,631.1 958.1,632.8 964.7,626.3 971.4,614.5 978.1,611.6 984.6,616.2 991.2,617.1 997.8,619.5 1003.8,613.4 1010.6,606.3 1017.1,609.9 1023.6,592.7 1030.3,584.4 1037.1,581.2 1043.6,582.7 1050.1,588 1056.8,586.9 1063.6,578.1 1070.1,581.6 1076.6,577.3 1083.4,591.5 1090.1,591 1096.6,595.7 1102.8,616.5" fill="none" stroke="#74679f" stroke-width="1" stroke-linejoin="round"/>
</g>
<g font-size="10.2">
<text x="15" y="545" fill="#131722" textLength="66" lengthAdjust="spacingAndGlyphs">RSI (14, close)</text>
<text x="88.4" y="545" fill="#7e57c2" textLength="26.6" lengthAdjust="spacingAndGlyphs">44.86</text>
<text x="121.3" y="545" fill="#f3dc6a" textLength="26.1" lengthAdjust="spacingAndGlyphs">55.87</text>
</g>
<g font-size="10" fill="#131722">
<text x="1306.6" y="535.6" textLength="27.5" lengthAdjust="spacingAndGlyphs">80.00</text>
<text x="1306.6" y="583.6" textLength="27.5" lengthAdjust="spacingAndGlyphs">60.00</text>
<text x="1306.6" y="631.6" textLength="27.5" lengthAdjust="spacingAndGlyphs">40.00</text>
</g>
<rect x="1299" y="584" width="38.7" height="13" rx="2" fill="#f9d548"/><text x="1306.6" y="594.2" font-size="10.4" fill="#131722" textLength="26.5" lengthAdjust="spacingAndGlyphs">55.87</text>
<rect x="1299" y="610.2" width="38.7" height="13" rx="2" fill="#7e57c2"/><text x="1306.6" y="620.4" font-size="10.4" fill="#fff" textLength="26.5" lengthAdjust="spacingAndGlyphs">44.86</text>
<g font-size="10.2" font-weight="bold" fill="#131722" text-anchor="middle">
<text x="153.52" y="679">May</text>
<text x="358.03" y="679">Jun</text>
<text x="555.94" y="679">Jul</text>
<text x="760.44" y="679">Aug</text>
<text x="964.95" y="679">Sep</text>
<text x="1162.86" y="679">Oct</text>
</g>
<g fill="#131722">
<path d="M10,705.3 H19.5 V717.6 H15.1 V709.9 H10 Z"/>
<circle cx="23.9" cy="707.5" r="2.1"/>
<path d="M29.4,705.3 H34.4 L29.6,717.6 H24.1 Z"/>
<text x="40.4" y="717.6" font-size="17" font-weight="bold" textLength="99.6" lengthAdjust="spacingAndGlyphs">TradingView</text>
</g>
</svg></body></html>
